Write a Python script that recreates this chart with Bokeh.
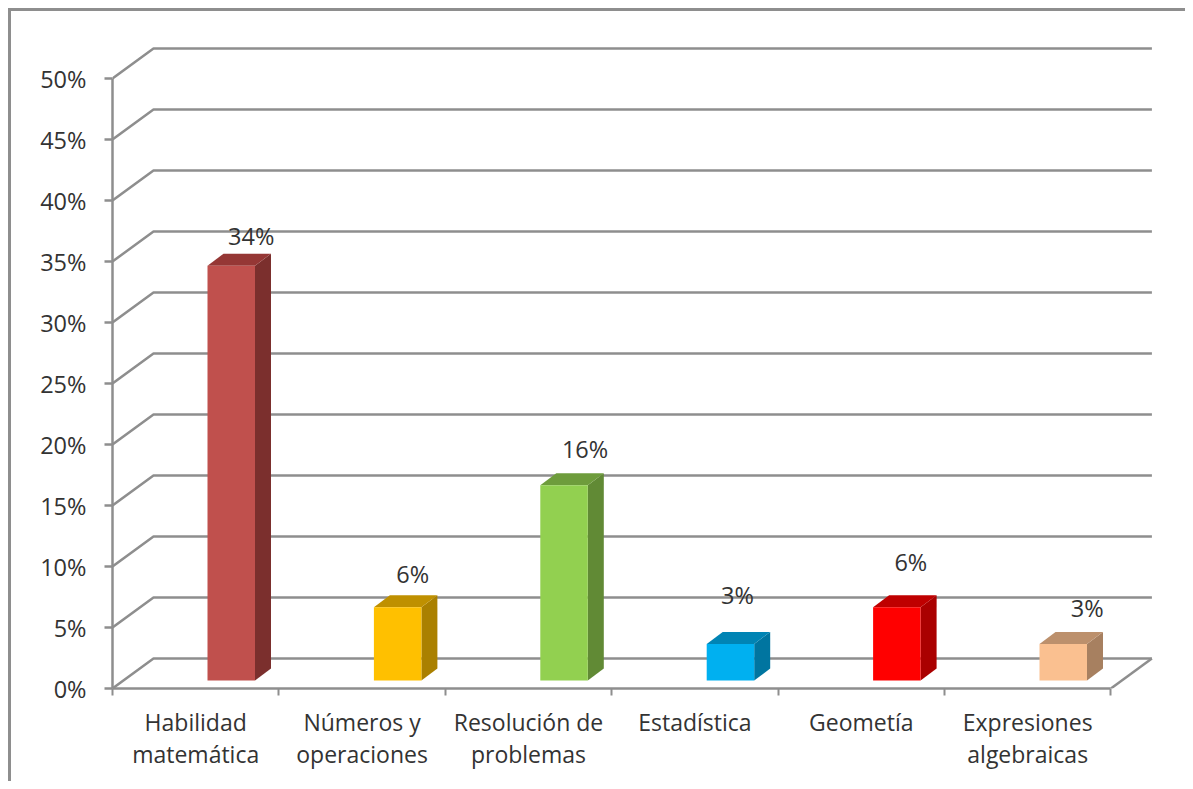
from bokeh.plotting import figure
from bokeh.models import ColumnDataSource, FixedTicker, PrintfTickFormatter, Range1d
from bokeh.core.properties import value
from bokeh.embed import file_html
from bokeh.resources import INLINE

categories = ["Habilidad\nmatemática", "Números y\noperaciones", "Resolución de\nproblemas",
              "Estadística", "Geometía", "Expresiones\nalgebraicas"]
values = [34, 6, 16, 3, 6, 3]
y_ticks = [0, 5, 10, 15, 20, 25, 30, 35, 40, 45, 50]
front_colors = ["#C0504D", "#FFC000", "#92D050", "#00B0F0", "#FF0000", "#FAC090"]
side_colors = ["#7B2F2D", "#AA8000", "#618A35", "#0075A0", "#AA0000", "#A78060"]
top_colors = ["#953735", "#BF9000", "#6E9C3C", "#0084B4", "#BF0000", "#BC906C"]
label_dx = [20, 15, 21, 7, 14, 24]
label_dy = [18, 21, 24, 37, 33, 24]

PX_X, PX_Y = 166.4, 12.2
WALL_X, WALL_Y = 41 / PX_X, 30 / PX_Y
BAR_L, BAR_W = 95 / PX_X, 47.5 / PX_X
BAR_B = 8 / PX_Y
SIDE_X, SIDE_Y = 16 / PX_X, 12 / PX_Y
GREY = "#8E8E8E"
TEXT = "#333333"
FONT = "Open Sans"

# the figure's left/top edges carry the chart's outer frame
p = figure(width=1177, height=773, output_backend="svg", toolbar_location=None,
           x_range=Range1d(0, 1048 / PX_X), y_range=Range1d(0, 650 / PX_Y),
           min_border_left=101, min_border_right=28, min_border_top=27, min_border_bottom=96)
p.outline_line_color = None
p.grid.visible = False
p.margin = (8, 0, 0, 8)
p.styles = {"border-left": f"3px solid {GREY}", "border-top": f"3px solid {GREY}", "box-sizing": "border-box"}

n = len(categories)
xs = [[0, WALL_X, n + WALL_X] for _ in y_ticks]
ys = [[t, t + WALL_Y, t + WALL_Y] for t in y_ticks]
p.multi_line(xs, ys, line_color=GREY, line_width=2.5)
p.line([n, n + WALL_X], [0, WALL_Y], line_color=GREY, line_width=2.5)

fx, fy, sx, sy, tx, ty = [], [], [], [], [], []
for i, v in enumerate(values):
    l, r, b, t = i + BAR_L, i + BAR_L + BAR_W, BAR_B, v + BAR_B
    fx.append([l, r, r, l]); fy.append([b, b, t, t])
    sx.append([r, r + SIDE_X, r + SIDE_X, r]); sy.append([b, b + SIDE_Y, t + SIDE_Y, t])
    tx.append([l, r, r + SIDE_X, l + SIDE_X]); ty.append([t, t, t + SIDE_Y, t + SIDE_Y])
p.patches(sx, sy, fill_color=side_colors, line_color=None)
p.patches(tx, ty, fill_color=top_colors, line_color=None)
p.patches(fx, fy, fill_color=front_colors, line_color=None)

src = ColumnDataSource(dict(
    x=[i + BAR_L + BAR_W / 2 for i in range(n)],
    y=[v + BAR_B + SIDE_Y for v in values],
    t=[f"{v}%" for v in values],
    dx=label_dx,
    dy=[-d for d in label_dy],
))
p.text("x", "y", text="t", source=src, x_offset="dx", y_offset="dy",
       text_align="center", text_baseline="middle",
       text_font=value(FONT), text_font_size="23.5px", text_color=TEXT)

ya = p.yaxis[0]
ya.ticker = FixedTicker(ticks=y_ticks)
ya.formatter = PrintfTickFormatter(format="%d%%")
ya.bounds = (0, 50)
ya.axis_line_color = GREY
ya.axis_line_width = 2.5
ya.major_tick_line_color = GREY
ya.major_tick_line_width = 2.5
ya.major_tick_out = 8
ya.major_tick_in = 0
ya.minor_tick_line_color = None
ya.major_label_standoff = 18
ya.major_label_text_font = FONT
ya.major_label_text_font_size = "23.5px"
ya.major_label_text_color = TEXT

xa = p.xaxis[0]
centers = [i + 0.5 for i in range(n)]
xa.ticker = FixedTicker(ticks=centers, minor_ticks=list(range(n + 1)))
xa.major_label_overrides = dict(zip(centers, categories))
xa.bounds = (0, n)
xa.axis_line_color = GREY
xa.axis_line_width = 2.5
xa.major_tick_line_color = None
xa.major_tick_out = 0
xa.major_tick_in = 0
xa.minor_tick_line_color = GREY
xa.minor_tick_line_width = 2
xa.minor_tick_out = 7
xa.minor_tick_in = 0
xa.major_label_standoff = 10
xa.major_label_text_font = FONT
xa.major_label_text_font_size = "23px"
xa.major_label_text_line_height = 1.02
xa.major_label_text_color = TEXT

open("out.html", "w").write(file_html(p, INLINE))
